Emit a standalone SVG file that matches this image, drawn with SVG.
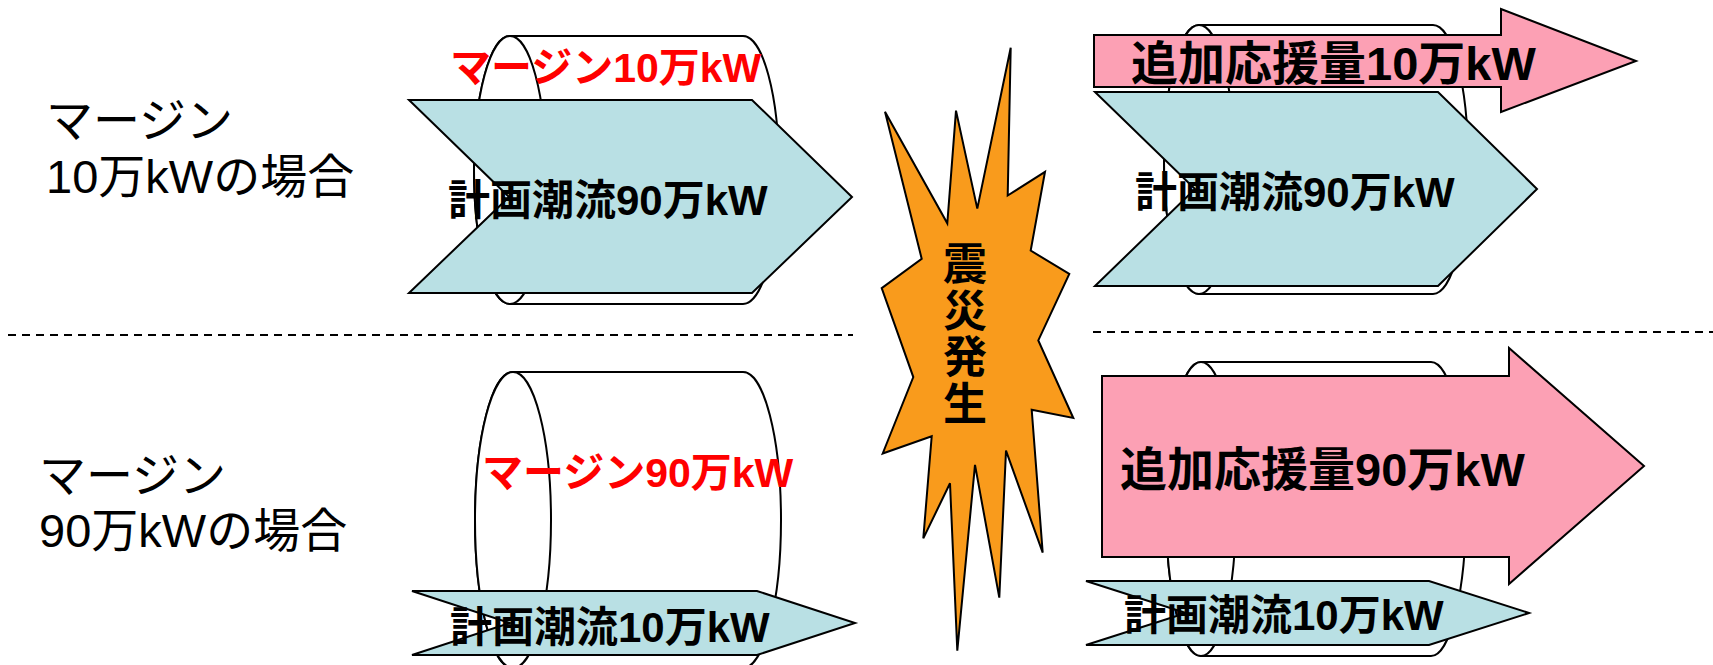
<svg xmlns="http://www.w3.org/2000/svg" width="1713" height="665" viewBox="0 0 1713 665">
<style>
.cyl{fill:#ffffff;stroke:#000;stroke-width:2}
.chev{fill:#B9E0E4;stroke:#000;stroke-width:2;stroke-linejoin:miter}
.pink{fill:#FCA0B4;stroke:#000;stroke-width:2}
.burst{fill:#F99B1C;stroke:#000;stroke-width:2;stroke-linejoin:miter}
.dash{stroke:#000;stroke-width:2;stroke-dasharray:8 6;fill:none}
.b{font-family:"Liberation Sans","Noto Sans CJK JP",sans-serif;font-weight:bold;fill:#000}
.red{fill:#FF0000}
.lbl{font-family:"Liberation Sans","Noto Sans CJK JP",sans-serif;font-size:47px;fill:#000}
</style>
<rect width="1713" height="665" fill="#ffffff"/>
<g id="connectors">
<line class="dash" x1="8" y1="335" x2="853" y2="335"/>
<line class="dash" x1="1093" y1="332" x2="1713" y2="332"/>
</g>
<g id="label-top">
<text class="lbl" x="46" y="137">マージン</text>
<text class="lbl" x="46" y="193">10万kWの場合</text>
</g>
<g id="label-bottom">
<text class="lbl" x="39" y="492">マージン</text>
<text class="lbl" x="39" y="547">90万kWの場合</text>
</g>
<g id="cylinder-tl">
<path class="cyl" d="M510,36 H743 A36,134 0 0 1 743,304 H510 A36,134 0 0 1 510,36 Z"/>
<ellipse class="cyl" cx="510" cy="170" rx="36" ry="134"/>
</g>
<g id="margin-tl">
<text class="b red" x="450" y="82" font-size="41">マージン10万kW</text>
</g>
<g id="flow-tl">
<polygon class="chev" points="409,100 752,100 852,197 752,293 409,293 509,197"/>
<text class="b" x="448" y="215" font-size="42">計画潮流90万kW</text>
</g>
<g id="cylinder-bl">
<path class="cyl" d="M513,372 H743 A38,148 0 0 1 743,668 H513 A38,148 0 0 1 513,372 Z"/>
<ellipse class="cyl" cx="513" cy="520" rx="38" ry="148"/>
</g>
<g id="margin-bl">
<text class="b red" x="482" y="487" font-size="41">マージン90万kW</text>
</g>
<g id="flow-bl">
<polygon class="chev" points="412,591 757,591 855,623 757,655 412,655 510,623"/>
<text class="b" x="450" y="642" font-size="42">計画潮流10万kW</text>
</g>
<g id="quake">
<polygon class="burst" points="1010.7,47.8 1007.7,195.5 1045,171.8 1030.7,250.6 1069.3,273.9 1038.3,340.4 1073.3,418 1031.7,409.8 1042.7,552.7 1006,450.6 999.3,597.6 975,464.9 957.3,650.6 950,483.3 923.3,538.4 931.7,436.3 882.7,453.5 913.3,377.1 881.7,288.2 921.7,258.8 885,111.8 947.3,223.3 956,110.6 977.3,208.6"/>
<text class="b" font-size="44" text-anchor="middle"><tspan x="965" y="280">震</tspan><tspan x="965" y="326.5">災</tspan><tspan x="965" y="373">発</tspan><tspan x="965" y="419.5">生</tspan></text>
</g>
<g id="cylinder-tr">
<path class="cyl" d="M1199,25 H1433 A35,134.5 0 0 1 1433,294 H1199 A35,134.5 0 0 1 1199,25 Z"/>
<ellipse class="cyl" cx="1199" cy="159.5" rx="35" ry="134.5"/>
</g>
<g id="support-tr">
<polygon class="pink" points="1094,35 1501,35 1501,9 1636,61 1501,112 1501,87 1094,87"/>
<text class="b" x="1131" y="80" font-size="47">追加応援量10万kW</text>
</g>
<g id="flow-tr">
<polygon class="chev" points="1095,92 1438,92 1537,189 1438,286 1095,286 1195,189"/>
<text class="b" x="1135" y="207" font-size="42">計画潮流90万kW</text>
</g>
<g id="cylinder-br">
<path class="cyl" d="M1201,362 H1431 A35,147 0 0 1 1431,656 H1201 A35,147 0 0 1 1201,362 Z"/>
<ellipse class="cyl" cx="1201" cy="509" rx="35" ry="147"/>
</g>
<g id="support-br">
<polygon class="pink" points="1102,376 1509,376 1509,348 1644,466 1509,584 1509,557 1102,557"/>
<text class="b" x="1120" y="486" font-size="47">追加応援量90万kW</text>
</g>
<g id="flow-br">
<polygon class="chev" points="1086,581 1429,581 1529,613 1429,645 1086,645 1186,613"/>
<text class="b" x="1124" y="630" font-size="42">計画潮流10万kW</text>
</g>
</svg>
